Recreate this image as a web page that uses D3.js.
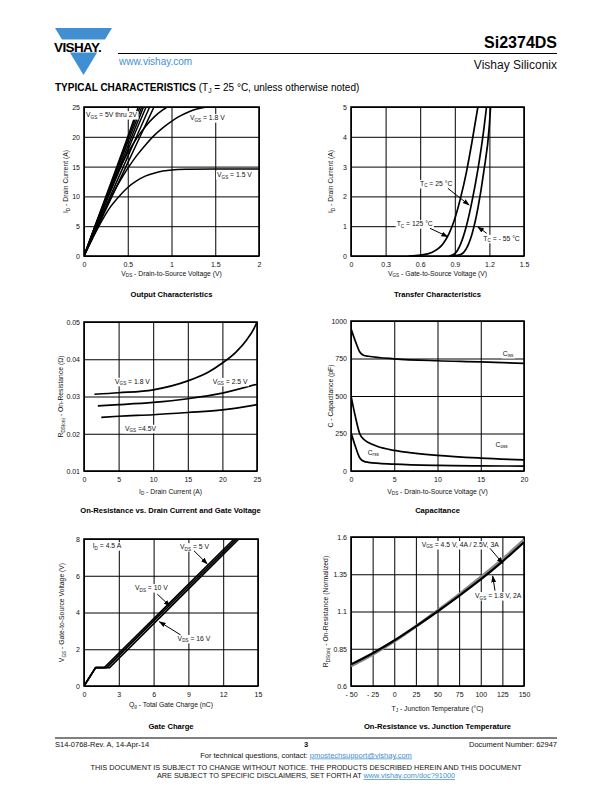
<!DOCTYPE html>
<html><head><meta charset="utf-8">
<script src="https://cdn.jsdelivr.net/npm/d3@7"></script>
<style>body{margin:0;background:#fff}svg{display:block;font-family:"Liberation Sans",Arial,sans-serif}</style>
</head><body><svg id="c" width="612" height="792"></svg>
<script>
// ---------- DATA ----------
// Output characteristics (VDS [V], ID [A])
const outBundle1 = [[0,0],[0.25,10],[0.5,20],[0.62,25]];
const outBundle2 = [[0,0],[0.255,10],[0.51,20],[0.64,25]];
const outBundle3 = [[0,0],[0.26,10],[0.525,20],[0.66,25]];
const outBundle4 = [[0,0],[0.27,10],[0.545,20],[0.68,25]];
const outBundle5 = [[0,0],[0.28,10],[0.565,20],[0.71,25]];
const outBundle6 = [[0,0],[0.30,10],[0.60,20],[0.75,25]];
const outBundle7 = [[0,0],[0.32,10],[0.64,20],[0.80,25]];
const outVgs2 = [[0,0],[0.1,4],[0.2,7.8],[0.3,11.3],[0.4,14.5],[0.5,17.3],[0.6,19.7],[0.7,21.7],[0.8,23.3],[0.9,24.5],[0.95,25]];
const outVgs18 = [[0,0],[0.1,3.4],[0.2,6.6],[0.3,9.6],[0.4,12.3],[0.5,14.7],[0.6,16.8],[0.7,18.6],[0.8,20.2],[0.9,21.5],[1.0,22.6],[1.1,23.5],[1.2,24.2],[1.3,24.7],[1.4,25]];
const outVgs15 = [[0,0],[0.1,3],[0.2,5.8],[0.3,8.2],[0.4,10],[0.5,11.5],[0.6,12.6],[0.7,13.4],[0.8,13.9],[0.9,14.25],[1.0,14.45],[1.2,14.55],[1.5,14.6],[2,14.6]];
const outXTicks = [0,0.5,1,1.5,2], outXLabels = ["0","0.5","1","1.5","2"];
const outYTicks = [0,5,10,15,20,25];

// Transfer characteristics (VGS [V], ID [A])
const trT125 = [[0.5,0],[0.6,0.03],[0.7,0.12],[0.8,0.42],[0.85,0.75],[0.9,1.25],[0.95,1.95],[1.0,2.8],[1.05,3.85],[1.1,5.0]];
const trT25 = [[0.85,0],[0.9,0.08],[0.95,0.4],[1.0,1.0],[1.05,1.85],[1.1,2.9],[1.15,4.2],[1.175,5.0]];
const trTm55 = [[0.88,0],[0.95,0.05],[1.0,0.25],[1.05,0.75],[1.1,1.6],[1.15,2.8],[1.2,4.4],[1.21,5.0]];
const trXTicks = [0,0.3,0.6,0.9,1.2,1.5], trXLabels = ["0","0.3","0.6","0.9","1.2","1.5"];
const trYTicks = [0,1,2,3,4,5];

// On-resistance vs drain current (ID [A], RDS [ohm])
const rdsVgs18 = [[1.5,0.0306],[5,0.0310],[10,0.0318],[15,0.0342],[18,0.0366],[20,0.0390],[22,0.0420],[23.5,0.0452],[24.5,0.0480],[25,0.0500]];
const rdsVgs25 = [[2,0.0275],[5,0.0278],[10,0.0284],[15,0.0294],[20,0.0309],[25,0.0333]];
const rdsVgs45 = [[2.5,0.0244],[5,0.0247],[10,0.0251],[15,0.0257],[20,0.0264],[25,0.0278]];
const rdsXTicks = [0,5,10,15,20,25];
const rdsYTicks = [0.01,0.02,0.03,0.04,0.05], rdsYLabels = ["0.01","0.02","0.03","0.04","0.05"];

// Capacitance (VDS [V], C [pF])
const capCiss = [[0,948],[0.5,866],[1,795],[1.5,770],[2,765],[5,748],[10,735],[15,728],[20,717]];
const capCoss = [[0,502],[0.5,364],[1,250],[1.5,210],[2,190],[3,165],[5,137],[7.5,118],[10,104],[15,86],[20,74]];
const capCrss = [[0,257],[0.5,165],[1,88],[1.5,64],[2,58],[5,46],[10,37],[15,34],[20,33]];
const capXTicks = [0,5,10,15,20];
const capYTicks = [0,250,500,750,1000];

// Gate charge (Qg [nC], VGS [V])
const gcVds5 = [[0,0],[1,1],[1.75,1],[12.95,8]];
const gcVds10 = [[0,0],[1,1],[1.95,1],[13.15,8]];
const gcVds16 = [[0,0],[1,1],[2.2,1],[13.35,8]];
const gcXTicks = [0,3,6,9,12,15];
const gcYTicks = [0,2,4,6,8];

// On-resistance vs junction temperature (TJ [°C], normalized)
const tjVgs45 = [[-50,0.745],[-25,0.82],[0,0.905],[25,1.0],[50,1.1],[75,1.205],[100,1.315],[125,1.435],[150,1.565]];
const tjVgs18 = [[-50,0.735],[-25,0.812],[0,0.9],[25,1.0],[50,1.105],[75,1.215],[100,1.33],[125,1.45],[150,1.58]];
const tjXTicks = [-50,-25,0,25,50,75,100,125,150], tjXLabels = ["- 50","- 25","0","25","50","75","100","125","150"];
const tjYTicks = [0.6,0.85,1.1,1.35,1.6], tjYLabels = ["0.6","0.85","1.1","1.35","1.6"];

// ---------- DRAWING ----------
const svg = d3.select("#c");
const FONT = '"Liberation Sans",Arial,sans-serif';
const BLUE = "#3f8fd2";

// text with _{sub} markup
function rich(sel, str, size) {
  const parts = str.split(/(_\{[^}]*\})/).filter(s => s.length);
  let pending = 0;
  parts.forEach(p => {
    if (p.startsWith("_{")) {
      sel.append("tspan").attr("font-size", size * 0.68).attr("dy", pending + size * 0.22).text(p.slice(2, -1));
      pending = -size * 0.22;
    } else {
      const ts = sel.append("tspan").attr("font-size", size).text(p);
      if (pending) ts.attr("dy", pending);
      pending = 0;
    }
  });
  return sel;
}

const defs = svg.append("defs");
defs.append("marker").attr("id","arr").attr("viewBox","0 0 10 10").attr("refX",9).attr("refY",5)
  .attr("markerWidth",7).attr("markerHeight",7).attr("orient","auto-start-reverse").attr("markerUnits","userSpaceOnUse")
  .append("path").attr("d","M0,1.5 L10,5 L0,8.5 Z").attr("fill","#000");

let clipId = 0;
function panel(cfg) {
  const x = d3.scaleLinear().domain(cfg.xd).range([cfg.l, cfg.r]);
  const y = d3.scaleLinear().domain(cfg.yd).range([cfg.b, cfg.t]);
  const g = svg.append("g");
  const id = "clip" + (clipId++);
  defs.append("clipPath").attr("id", id).append("rect")
    .attr("x", cfg.l).attr("y", cfg.t).attr("width", cfg.r - cfg.l).attr("height", cfg.b - cfg.t);
  const gx = d3.axisBottom(x).tickValues(cfg.xt).tickSize(-(cfg.b - cfg.t)).tickFormat((d,i)=>cfg.xl ? cfg.xl[i] : String(d)).tickPadding(4);
  const gy = d3.axisLeft(y).tickValues(cfg.yt).tickSize(-(cfg.r - cfg.l)).tickFormat((d,i)=>cfg.yl ? cfg.yl[i] : String(d)).tickPadding(4);
  const ax = g.append("g").attr("transform", `translate(0,${cfg.b})`).call(gx);
  const ay = g.append("g").attr("transform", `translate(${cfg.l},0)`).call(gy);
  [ax, ay].forEach(a => {
    a.select(".domain").remove();
    a.selectAll(".tick line").attr("stroke", "#000").attr("stroke-width", 1);
    a.selectAll(".tick text").attr("font-family", FONT).attr("font-size", 7).attr("fill", "#111");
  });
  ax.selectAll(".tick text").attr("dy", null).attr("y", cfg.xlOff || 10.5);
  ay.selectAll(".tick text").attr("dy", "0.35em");
  g.append("rect").attr("x", cfg.l).attr("y", cfg.t).attr("width", cfg.r - cfg.l).attr("height", cfg.b - cfg.t)
    .attr("fill", "none").attr("stroke", "#000").attr("stroke-width", 1.6);
  const cg = g.append("g").attr("clip-path", `url(#${id})`);
  cfg.series.forEach(s => {
    const line = d3.line().x(d => x(d[0])).y(d => y(d[1])).curve(s.curve || d3.curveMonotoneX);
    cg.append("path").attr("d", line(s.data)).attr("fill", "none")
      .attr("stroke", s.color || "#000").attr("stroke-width", s.w || 1.6).attr("stroke-linejoin", "round");
  });
  (cfg.labels || []).forEach(lb => {
    const lg = g.append("g");
    const bg = lg.append("rect").attr("fill", "#fff");
    const t = lg.append("text").attr("x", x(lb.x)).attr("y", y(lb.y)).attr("font-family", FONT).attr("fill", "#111");
    rich(t, lb.text, lb.size || 6.8);
    const bb = t.node().getBBox();
    bg.attr("x", bb.x - 1).attr("y", bb.y).attr("width", bb.width + 2).attr("height", bb.height);
  });
  (cfg.arrows || []).forEach(a => {
    g.append("line").attr("x1", x(a[0])).attr("y1", y(a[1])).attr("x2", x(a[2])).attr("y2", y(a[3]))
      .attr("stroke", "#000").attr("stroke-width", 1).attr("marker-end", "url(#arr)");
  });
  const xt = svg.append("text").attr("x", (cfg.l + cfg.r) / 2).attr("y", cfg.b + cfg.xtOff)
    .attr("text-anchor", "middle").attr("font-family", FONT).attr("fill", "#111");
  rich(xt, cfg.xTitle, 6.8);
  const yc = (cfg.t + cfg.b) / 2;
  const yt = svg.append("text").attr("transform", `translate(${cfg.ytX},${yc}) rotate(-90)`)
    .attr("text-anchor", "middle").attr("font-family", FONT).attr("fill", "#111");
  rich(yt, cfg.yTitle, 6.8);
  svg.append("text").attr("x", (cfg.l + cfg.r) / 2).attr("y", cfg.titleY).attr("text-anchor", "middle")
    .attr("font-family", FONT).attr("font-weight", "bold").attr("font-size", 7.6).attr("fill", "#000").text(cfg.title);
}

// Panel 1: Output characteristics
panel({l:84, r:259, t:107, b:256, xd:[0,2], yd:[0,25], xt:outXTicks, xl:outXLabels, yt:outYTicks,
  series:[outBundle1,outBundle2,outBundle3,outBundle4,outBundle5,outBundle6,outBundle7,outVgs2,outVgs18,outVgs15].map(d=>({data:d, w:1.5})),
  labels:[{x:0.023,y:23.3,text:"V_{GS} = 5V thru 2V"},{x:1.21,y:22.8,text:"V_{GS} = 1.8 V"},{x:1.52,y:13.25,text:"V_{GS} = 1.5 V"}],
  xTitle:"V_{DS} - Drain-to-Source Voltage (V)", xtOff:20, yTitle:"I_{D} - Drain Current (A)", ytX:68,
  title:"Output Characteristics", titleY:297});

// Panel 2: Transfer characteristics
panel({l:351, r:524, t:107, b:256, xd:[0,1.5], yd:[0,5], xt:trXTicks, xl:trXLabels, yt:trYTicks,
  series:[trT125, trT25, trTm55].map(d=>({data:d, w:1.7})),
  labels:[{x:0.598,y:2.35,text:"T_{C} = 25 °C"},{x:0.396,y:1.0,text:"T_{C} = 125 °C"},{x:1.147,y:0.51,text:"T_{C} = - 55 °C"}],
  arrows:[[0.84,2.27,1.024,1.71],[0.685,0.93,0.838,0.65],[1.177,0.76,1.099,0.98]],
  xTitle:"V_{GS} - Gate-to-Source Voltage (V)", xtOff:20, yTitle:"I_{D} - Drain Current (A)", ytX:333,
  title:"Transfer Characteristics", titleY:297});

// Panel 3: On-resistance vs drain current
panel({l:84, r:257, t:322, b:471, xd:[0,25], yd:[0.01,0.05], xt:rdsXTicks, yt:rdsYTicks, yl:rdsYLabels,
  series:[rdsVgs18, rdsVgs25, rdsVgs45].map(d=>({data:d, w:1.7})),
  labels:[{x:4.48,y:0.0334,text:"V_{GS} = 1.8 V"},{x:18.6,y:0.0334,text:"V_{GS} = 2.5 V"},{x:5.92,y:0.0208,text:"V_{GS} =4.5V"}],
  xTitle:"I_{D} - Drain Current (A)", xtOff:23, yTitle:"R_{DS(on)} - On-Resistance (Ω)", ytX:63,
  title:"On-Resistance vs. Drain Current and Gate Voltage", titleY:513});

// Panel 4: Capacitance
panel({l:351, r:524, t:321, b:471, xd:[0,20], yd:[0,1000], xt:capXTicks, yt:capYTicks,
  series:[capCiss, capCoss, capCrss].map(d=>({data:d, w:1.7})),
  labels:[{x:17.54,y:767,text:"C_{iss}"},{x:16.7,y:160,text:"C_{oss}"},{x:1.93,y:107,text:"C_{rss}"}],
  xTitle:"V_{DS} - Drain-to-Source Voltage (V)", xtOff:23, yTitle:"C - Capacitance (pF)", ytX:333,
  title:"Capacitance", titleY:513});

// Panel 5: Gate charge
panel({l:84, r:258, t:539, b:686, xd:[0,15], yd:[0,8], xt:gcXTicks, yt:gcYTicks,
  series:[gcVds5, gcVds10, gcVds16].map(d=>({data:d, w:1.7, curve:d3.curveLinear})),
  labels:[{x:0.75,y:7.5,text:"I_{D} = 4.5 A"},{x:8.28,y:7.45,text:"V_{DS} = 5 V"},{x:4.4,y:5.22,text:"V_{DS} = 10 V"},{x:8.07,y:2.45,text:"V_{DS} = 16 V"}],
  arrows:[[9.48,7.36,10.63,6.64],[6.32,5.0,7.41,4.35],[8.33,2.78,6.49,3.5]],
  xTitle:"Q_{g} - Total Gate Charge (nC)", xtOff:21, yTitle:"V_{GS} - Gate-to-Source Voltage (V)", ytX:64,
  title:"Gate Charge", titleY:729});

// Panel 6: On-resistance vs junction temperature
panel({l:351, r:524, t:537, b:686, xd:[-50,150], yd:[0.6,1.6], xt:tjXTicks, xl:tjXLabels, yt:tjYTicks, yl:tjYLabels,
  series:[{data:tjVgs18, w:3, color:"#888"},{data:tjVgs45, w:2.2}],
  labels:[{x:31.7,y:1.533,text:"V_{GS} = 4.5 V, 4A / 2.5V, 3A"},{x:93.4,y:1.19,text:"V_{GS} = 1.8 V, 2A"}],
  arrows:[[110.7,1.524,125.4,1.423],[116.5,1.24,113.8,1.338]],
  xTitle:"T_{J} - Junction Temperature (°C)", xtOff:25, yTitle:"R_{DS(on)} - On-Resistance (Normalized)", ytX:328,
  title:"On-Resistance vs. Junction Temperature", titleY:729});

// ---------- HEADER ----------
const hdr = svg.append("g");
hdr.append("path").attr("d","M55,28 L112,28 L83.5,75 Z").attr("fill", BLUE);
hdr.append("rect").attr("x",50).attr("y",39.5).attr("width",68).attr("height",13).attr("fill","#fff");
hdr.append("text").attr("x",54).attr("y",51.5).attr("font-family",FONT).attr("font-weight","bold")
  .attr("font-size",13.5).attr("letter-spacing",-0.6).attr("fill","#000").text("VISHAY.");
hdr.append("line").attr("x1",118).attr("x2",557).attr("y1",53.5).attr("y2",53.5).attr("stroke","#000").attr("stroke-width",1.2);
hdr.append("text").attr("x",557).attr("y",48).attr("text-anchor","end").attr("font-family",FONT).attr("font-weight","bold")
  .attr("font-size",16).attr("fill","#000").text("Si2374DS");
hdr.append("text").attr("x",557).attr("y",69).attr("text-anchor","end").attr("font-family",FONT)
  .attr("font-size",12).attr("fill","#111").text("Vishay Siliconix");
hdr.append("text").attr("x",119).attr("y",65).attr("font-family",FONT).attr("font-size",10).attr("fill",BLUE).text("www.vishay.com");
const tc = hdr.append("text").attr("x",55).attr("y",91).attr("font-family",FONT).attr("fill","#000");
tc.append("tspan").attr("font-weight","bold").attr("font-size",10).text("TYPICAL CHARACTERISTICS ");
tc.append("tspan").attr("font-size",10).text("(T");
tc.append("tspan").attr("font-size",6.8).attr("dy",2.2).text("J");
tc.append("tspan").attr("font-size",10).attr("dy",-2.2).text(" = 25 °C, unless otherwise noted)");

// ---------- FOOTER ----------
const ftr = svg.append("g").attr("font-family", FONT).attr("fill","#111");
ftr.append("line").attr("x1",55).attr("x2",557).attr("y1",738).attr("y2",738).attr("stroke","#000").attr("stroke-width",1);
ftr.append("text").attr("x",55).attr("y",746.5).attr("font-size",7.5).text("S14-0768-Rev. A, 14-Apr-14");
ftr.append("text").attr("x",306).attr("y",747).attr("text-anchor","middle").attr("font-size",7.5).attr("font-weight","bold").text("3");
ftr.append("text").attr("x",557).attr("y",746.5).attr("text-anchor","end").attr("font-size",7.5).text("Document Number: 62947");
const f2 = ftr.append("text").attr("x",306).attr("y",757.5).attr("text-anchor","middle").attr("font-size",7.5);
f2.append("tspan").attr("font-size",7.5).text("For technical questions, contact: ");
f2.append("tspan").attr("font-size",7.5).attr("fill",BLUE).attr("text-decoration","underline").text("pmostechsupport@vishay.com");
ftr.append("text").attr("x",306).attr("y",769.5).attr("text-anchor","middle").attr("font-size",7.3)
  .text("THIS DOCUMENT IS SUBJECT TO CHANGE WITHOUT NOTICE. THE PRODUCTS DESCRIBED HEREIN AND THIS DOCUMENT");
const f4 = ftr.append("text").attr("x",306).attr("y",778).attr("text-anchor","middle").attr("font-size",7.3);
f4.append("tspan").attr("font-size",7.3).text("ARE SUBJECT TO SPECIFIC DISCLAIMERS, SET FORTH AT ");
f4.append("tspan").attr("font-size",7.3).attr("fill",BLUE).attr("text-decoration","underline").text("www.vishay.com/doc?91000");
</script></body></html>
